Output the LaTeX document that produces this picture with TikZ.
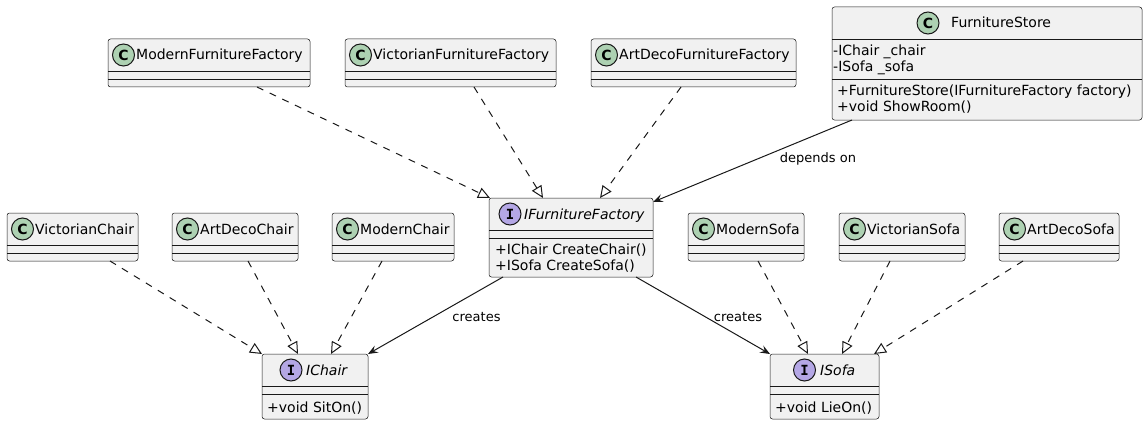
\documentclass[tikz,border=0pt]{standalone}
\usepackage{fontspec}
\setmainfont{DejaVu Sans}
\newfontfamily\monob{DejaVu Sans Mono}
\usetikzlibrary{arrows.meta,calc}
\definecolor{cborder}{HTML}{181818}
\definecolor{cfill}{HTML}{F1F1F1}
\definecolor{ccls}{HTML}{ADD1B2}
\definecolor{cint}{HTML}{B4A7E5}
\tikzset{
 cls/.style={rectangle, draw=cborder, fill=cfill, line width=0.5pt, rounded corners=2.5pt, inner sep=0pt, outer sep=0pt, anchor=north west},
 sepline/.style={draw=cborder, line width=0.5pt},
 ttl/.style={inner sep=0pt, anchor=base west, font=\fontsize{14}{16}\selectfont},
 ittl/.style={inner sep=0pt, anchor=base west, font=\fontsize{14}{16}\selectfont\itshape},
 mem/.style={inner sep=0pt, anchor=base west, font=\fontsize{14}{16}\selectfont},
 cicon/.style={circle, draw=cborder, line width=1pt, fill=ccls, minimum size=22pt, inner sep=0pt, font=\fontsize{14}{16}\selectfont\bfseries},
 iicon/.style={circle, draw=cborder, line width=1pt, fill=cint, minimum size=22pt, inner sep=0pt, font=\fontsize{14}{16}\monob\bfseries},
 realize/.style={draw=cborder, line width=1pt, dash pattern=on 7pt off 7pt, -{Triangle[open, length=12pt, width=11pt]}},
 assoc/.style={draw=cborder, line width=1pt, -{Stealth[length=10pt, width=8pt, inset=4pt]}},
 lbl/.style={inner sep=0pt, anchor=base, font=\fontsize{13}{15}\selectfont},
}
\newcommand\simplecls[5]{%
 \node[cls, minimum width={#4-#2}, minimum height=48pt] (#1) at (#2,#3) {};
 \draw[sepline] (#2,#3+32) -- (#4,#3+32);
 \draw[sepline] (#2,#3+40) -- (#4,#3+40);
 \node[cicon] (#1-icon) at (#2+15.5,#3+16) {C};
 \node[ttl] (#1-name) at (#2+28,#3+21) {#5};
}
\begin{document}
\begin{tikzpicture}[x=1pt,y=-1pt]
\useasboundingbox (0,0) rectangle (1147,425);
% top row
\simplecls{mff}{108}{39}{310}{ModernFurnitureFactory}
\simplecls{vff}{345}{39}{556}{VictorianFurnitureFactory}
\simplecls{adff}{591}{39}{796}{ArtDecoFurnitureFactory}
% FurnitureStore
\node[cls, minimum width=310pt, minimum height=113pt] (fs) at (832,7) {};
\draw[sepline] (832,39) -- (1142,39);
\draw[sepline] (832,79) -- (1142,79);
\node[cicon] (fs-icon) at (928,23) {C};
\node[ttl] (fs-name) at (951,28) {FurnitureStore};
\node[mem] (fs-a1) at (833,56) {-IChair \_chair};
\node[mem] (fs-a2) at (833,72) {-ISofa \_sofa};
\node[mem] (fs-m1) at (837,95.5) {+FurnitureStore(IFurnitureFactory factory)};
\node[mem] (fs-m2) at (837,111.5) {+void ShowRoom()};
% middle row
\simplecls{vc}{7}{213}{138}{VictorianChair}
\simplecls{adc}{172}{213}{298}{ArtDecoChair}
\simplecls{mc}{332}{213}{454}{ModernChair}
\simplecls{ms}{688}{213}{804}{ModernSofa}
\simplecls{vs}{839}{213}{965}{VictorianSofa}
\simplecls{ads}{999}{213}{1119}{ArtDecoSofa}
% IFurnitureFactory
\node[cls, minimum width=164pt, minimum height=79pt] (iff) at (489,198) {};
\draw[sepline] (489,230) -- (653,230);
\draw[sepline] (489,238) -- (653,238);
\node[iicon] (iff-icon) at (510,214) {I};
\node[ittl] (iff-name) at (524,219) {IFurnitureFactory};
\node[mem] (iff-m1) at (495,254) {+IChair CreateChair()};
\node[mem] (iff-m2) at (495,270) {+ISofa CreateSofa()};
% IChair
\node[cls, minimum width=106pt, minimum height=65pt] (ichair) at (262,354) {};
\draw[sepline] (262,386) -- (368,386);
\draw[sepline] (262,394) -- (368,394);
\node[iicon] (ichair-icon) at (291,370) {I};
\node[ittl] (ichair-name) at (306,375) {IChair};
\node[mem] (ichair-m1) at (267,412) {+void SitOn()};
% ISofa
\node[cls, minimum width=109pt, minimum height=65pt] (isofa) at (770,354) {};
\draw[sepline] (770,386) -- (879,386);
\draw[sepline] (770,394) -- (879,394);
\node[iicon] (isofa-icon) at (804.5,370) {I};
\node[ittl] (isofa-name) at (820,375) {ISofa};
\node[mem] (isofa-m1) at (775,412) {+void LieOn()};
% realizations to IFurnitureFactory
\draw[realize] ($(mff.south west)+(149,0)$) -- ($(iff.north west)+(1,0)$);
\draw[realize] ($(vff.south west)+(129,0)$) -- ($(iff.north west)+(54,0)$);
\draw[realize] ($(adff.south west)+(90,0)$) -- ($(iff.north west)+(111,0)$);
% depends on
\draw[assoc] ($(fs.south west)+(20,0)$) -- ($(iff.north east)+(0,4)$);
\node[lbl] (l-dep) at (818,162) {depends on};
% chairs
\draw[realize] ($(vc.south west)+(103,0)$) -- (ichair.north west);
\draw[realize] ($(adc.south west)+(76,0)$) -- ($(ichair.north west)+(36,0)$);
\draw[realize] ($(mc.south west)+(50,0)$) -- ($(ichair.north west)+(69,0)$);
% creates
\draw[assoc] ($(iff.south west)+(14,0)$) -- (ichair.north east);
\node[lbl] (l-c1) at (476.5,321) {creates};
\draw[assoc] ($(iff.south west)+(147,0)$) -- (isofa.north west);
\node[lbl] (l-c2) at (738,321) {creates};
% sofas
\draw[realize] ($(ms.south west)+(70,0)$) -- ($(isofa.north west)+(38,0)$);
\draw[realize] ($(vs.south west)+(51,0)$) -- ($(isofa.north west)+(72,0)$);
\draw[realize] ($(ads.south west)+(24,0)$) -- ($(isofa.north west)+(104,0)$);
\end{tikzpicture}
\end{document}
